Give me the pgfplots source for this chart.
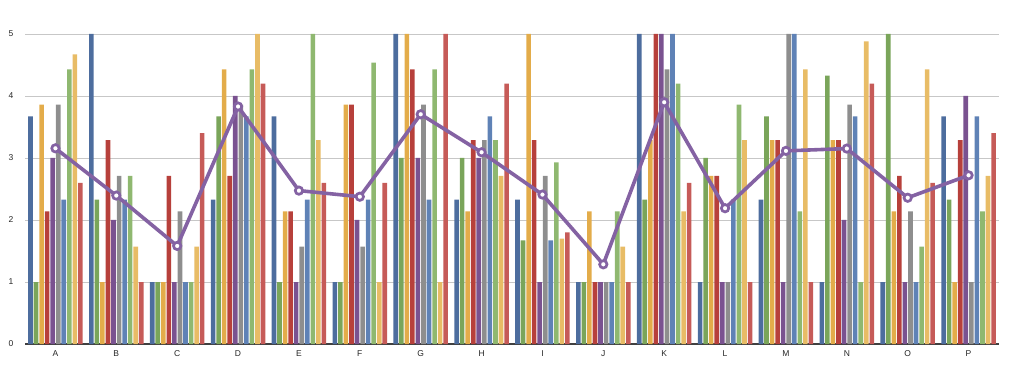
\documentclass[border=0pt]{standalone}
\usepackage{fontspec}
\setmainfont{Liberation Sans}
\usepackage{pgfplots}
\usepackage{pgfplotstable}
\pgfplotsset{compat=1.18}
\definecolor{c1}{HTML}{4D6D9E}
\definecolor{c2}{HTML}{7AA55A}
\definecolor{c3}{HTML}{E3AC4A}
\definecolor{c4}{HTML}{B7403B}
\definecolor{c5}{HTML}{7A5290}
\definecolor{c6}{HTML}{8E8E8E}
\definecolor{c7}{HTML}{5F82B6}
\definecolor{c8}{HTML}{8FB870}
\definecolor{c9}{HTML}{E8BC66}
\definecolor{c10}{HTML}{C65B58}
\definecolor{lineC}{HTML}{8462A3}
\pgfplotstableread{
x s1 s2 s3 s4 s5 s6 s7 s8 s9 s10 avg
0 3.67 1 3.86 2.14 3 3.86 2.33 4.43 4.67 2.6 3.156
1 5 2.33 1 3.29 2 2.71 2.33 2.71 1.57 1 2.394
2 1 1 1 2.71 1 2.14 1 1 1.57 3.4 1.582
3 2.33 3.67 4.43 2.71 4 3.86 3.67 4.43 5 4.2 3.83
4 3.67 1 2.14 2.14 1 1.57 2.33 5 3.29 2.6 2.474
5 1 1 3.86 3.86 2 1.57 2.33 4.54 1 2.6 2.376
6 5 3 5 4.43 3 3.86 2.33 4.43 1 5 3.705
7 2.33 3 2.14 3.29 3 3.29 3.67 3.29 2.71 4.2 3.092
8 2.33 1.67 5 3.29 1 2.71 1.67 2.93 1.7 1.8 2.41
9 1 1 2.14 1 1 1 1 2.14 1.57 1 1.285
10 5 2.33 3.29 5 5 4.43 5 4.2 2.14 2.6 3.899
11 1 3 2.71 2.71 1 1 2.33 3.86 3.29 1 2.19
12 2.33 3.67 3.29 3.29 1 5 5 2.14 4.43 1 3.115
13 1 4.33 3.29 3.29 2 3.86 3.67 1 4.88 4.2 3.152
14 1 5 2.14 2.71 1 2.14 1 1.57 4.43 2.6 2.359
15 3.67 2.33 1 3.29 4 1 3.67 2.14 2.71 3.4 2.721
}\datatable
\begin{document}
\begin{tikzpicture}
\useasboundingbox (-25pt,-25pt) rectangle (999pt,344pt);
\begin{axis}[
  scale only axis,
  width=974pt, height=310pt,
  xmin=-0.5, xmax=15.5, ymin=0, ymax=5,
  axis x line*=bottom, axis y line*=left,
  y axis line style={draw=none},
  x axis line style={draw=black!75, line width=1.3pt},
  xtick={0,...,15},
  xticklabels={A,B,C,D,E,F,G,H,I,J,K,L,M,N,O,P},
  ytick={0,1,2,3,4,5},
  major tick length=0pt,
  ymajorgrids,
  major grid style={draw=black!22, line width=0.9pt},
  tick label style={font=\fontsize{8.5}{10}\selectfont, text=black!85},
  /pgf/number format/assume math mode=true,
  yticklabel style={xshift=-8pt},
  xticklabel style={yshift=-3.5pt},
  clip=false,
]
\addplot[ybar, bar width=4.6pt, bar shift=-24.98pt, fill=c1, draw=none] table[x=x,y=s1]{\datatable};
\addplot[ybar, bar width=4.6pt, bar shift=-19.43pt, fill=c2, draw=none] table[x=x,y=s2]{\datatable};
\addplot[ybar, bar width=4.6pt, bar shift=-13.88pt, fill=c3, draw=none] table[x=x,y=s3]{\datatable};
\addplot[ybar, bar width=4.6pt, bar shift=-8.33pt, fill=c4, draw=none] table[x=x,y=s4]{\datatable};
\addplot[ybar, bar width=4.6pt, bar shift=-2.78pt, fill=c5, draw=none] table[x=x,y=s5]{\datatable};
\addplot[ybar, bar width=4.6pt, bar shift=2.78pt, fill=c6, draw=none] table[x=x,y=s6]{\datatable};
\addplot[ybar, bar width=4.6pt, bar shift=8.33pt, fill=c7, draw=none] table[x=x,y=s7]{\datatable};
\addplot[ybar, bar width=4.6pt, bar shift=13.88pt, fill=c8, draw=none] table[x=x,y=s8]{\datatable};
\addplot[ybar, bar width=4.6pt, bar shift=19.43pt, fill=c9, draw=none] table[x=x,y=s9]{\datatable};
\addplot[ybar, bar width=4.6pt, bar shift=24.98pt, fill=c10, draw=none] table[x=x,y=s10]{\datatable};
\addplot[sharp plot, draw=lineC, line width=3.6pt, mark=*, mark size=3.7pt,
  mark options={fill=white, draw=lineC, line width=2.7pt}] table[x=x,y=avg]{\datatable};
\end{axis}
\end{tikzpicture}
\end{document}
